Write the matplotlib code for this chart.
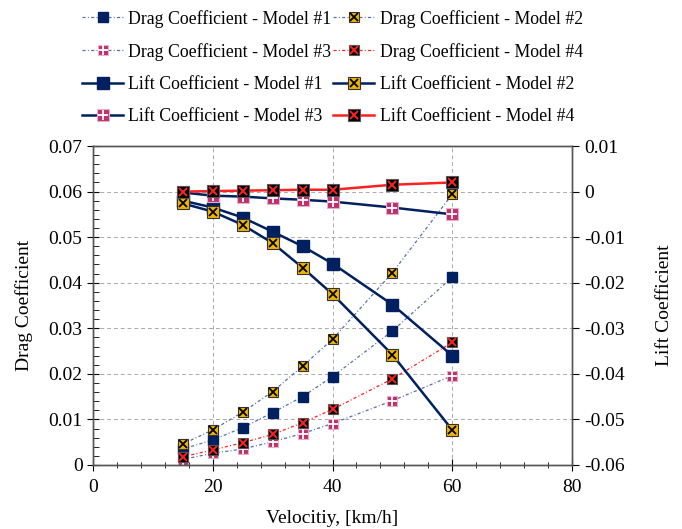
import matplotlib
matplotlib.use("Agg")
import matplotlib.pyplot as plt
from matplotlib.legend_handler import HandlerTuple
from matplotlib.ticker import MultipleLocator

plt.rcParams['font.family'] = ['Liberation Serif', 'DejaVu Serif']

velocity = [15, 20, 25, 30, 35, 40, 50, 60]

drag_m1 = [0.0035, 0.0055, 0.0082, 0.0115, 0.0150, 0.0194, 0.0294, 0.0412]
drag_m2 = [0.0046, 0.0077, 0.0116, 0.0161, 0.0217, 0.0276, 0.0422, 0.0594]
drag_m3 = [0.0012, 0.0026, 0.0035, 0.0051, 0.0069, 0.0091, 0.0141, 0.0196]
drag_m4 = [0.0018, 0.0033, 0.0049, 0.0067, 0.0093, 0.0122, 0.0189, 0.0269]

lift_m1 = [-0.0020, -0.0035, -0.0057, -0.0088, -0.0120, -0.0158, -0.0248, -0.0360]
lift_m2 = [-0.0026, -0.0044, -0.0073, -0.0113, -0.0167, -0.0225, -0.0358, -0.0523]
lift_m3 = [-0.0002, -0.0009, -0.0011, -0.0015, -0.0018, -0.0022, -0.0035, -0.0050]
lift_m4 = [0.0000, 0.0001, 0.0002, 0.0003, 0.0004, 0.0004, 0.0015, 0.0020]

NAVY = '#002060'
DLINE = '#5570A8'
GOLD = '#F0B400'
PINK = '#C0306A'
RED = '#FF2020'

fig = plt.figure(figsize=(6.82, 5.29), dpi=100)
ax = fig.add_axes([0.1364, 0.121, 0.7023, 0.603])
ax2 = ax.twinx()

def draw(a, x, y, model, lw, ls, lcolor, ms):
    if model == 1:
        l = a.plot(x, y, ls=ls, lw=lw, color=lcolor, marker='s', ms=ms,
                   mfc=NAVY, mec=NAVY)[0]
        return (l,)
    if model == 2:
        l = a.plot(x, y, ls=ls, lw=lw, color=lcolor, marker='s', ms=ms,
                   mfc=GOLD, mec='#333333', mew=0.8)[0]
        o = a.plot(x, y, ls='none', marker='x', ms=ms * 0.75, mec='black', mew=1.3)[0]
        return (l, o)
    if model == 3:
        l = a.plot(x, y, ls=ls, lw=lw, color=lcolor, marker='s', ms=ms,
                   mfc=PINK, mec='#E8B0C8', mew=0.8)[0]
        o = a.plot(x, y, ls='none', marker='+', ms=ms * 0.95, mec='white', mew=1.3)[0]
        return (l, o)
    l = a.plot(x, y, ls=ls, lw=lw, color=lcolor, marker='s', ms=ms,
               mfc='black', mec='#555555', mew=0.8)[0]
    o = a.plot(x, y, ls='none', marker='x', ms=ms * 0.75, mec=RED, mew=1.4)[0]
    return (l, o)

dls = (0, (2.5, 1.8, 0.8, 1.8))
h_d1 = draw(ax, velocity, drag_m1, 1, 0.9, dls, DLINE, 7)
h_d2 = draw(ax, velocity, drag_m2, 2, 0.9, dls, DLINE, 7)
h_d3 = draw(ax, velocity, drag_m3, 3, 0.9, dls, DLINE, 7)
h_d4 = draw(ax, velocity, drag_m4, 4, 0.9, dls, RED, 7)

h_l1 = draw(ax2, velocity, lift_m1, 1, 1.8, '-', NAVY, 8.5)
h_l2 = draw(ax2, velocity, lift_m2, 2, 1.8, '-', NAVY, 8)
h_l3 = draw(ax2, velocity, lift_m3, 3, 1.8, '-', NAVY, 8)
h_l4 = draw(ax2, velocity, lift_m4, 4, 1.8, '-', RED, 8)

ax.set_xlim(0, 80)
ax.set_ylim(0, 0.07)
ax2.set_ylim(-0.06, 0.01)
ax.xaxis.set_major_locator(MultipleLocator(20))
ax.xaxis.set_minor_locator(MultipleLocator(4))
ax.yaxis.set_major_locator(MultipleLocator(0.01))
ax.yaxis.set_minor_locator(MultipleLocator(0.002))
ax2.yaxis.set_major_locator(MultipleLocator(0.01))
ax.yaxis.set_major_formatter(plt.FuncFormatter(lambda v, p: '0' if abs(v) < 1e-9 else f'{v:.2f}'))
ax2.yaxis.set_major_formatter(plt.FuncFormatter(lambda v, p: '0' if abs(v) < 1e-9 else f'{v:.2f}'))
ax.xaxis.set_major_formatter(plt.FuncFormatter(lambda v, p: f'{v:.0f}'))

ax.grid(True, which='major', ls=(0, (4, 3)), color='#AAAAAA', lw=0.7)
ax.tick_params(axis='x', which='major', direction='inout', length=8, labelsize=14, pad=6)
ax.tick_params(axis='x', which='minor', direction='inout', length=5)
ax.tick_params(axis='y', which='major', direction='inout', length=8, labelsize=14)
ax.tick_params(axis='y', which='minor', direction='in', length=4)
ax2.tick_params(axis='y', which='major', direction='out', length=5, labelsize=14)

for a in (ax, ax2):
    for s in a.spines.values():
        s.set_color('#555555')
        s.set_linewidth(1.0)

ax.set_xlabel('Velocitiy, [km/h]', fontsize=14, labelpad=10)
ax.set_ylabel('Drag Coefficient', fontsize=14, labelpad=11)
ax2.set_ylabel('Lift Coefficient', fontsize=14, labelpad=23)

handles = [h_d1, h_d3, h_l1, h_l3, h_d2, h_d4, h_l2, h_l4]
labels = ['Drag Coefficient - Model #1', 'Drag Coefficient - Model #3',
          'Lift Coefficient - Model #1', 'Lift Coefficient - Model #3',
          'Drag Coefficient - Model #2', 'Drag Coefficient - Model #4',
          'Lift Coefficient - Model #2', 'Lift Coefficient - Model #4']
fig.legend(handles, labels, ncol=2, loc='upper left', bbox_to_anchor=(0.097, 1.012),
           frameon=False, fontsize=12.8, handler_map={tuple: HandlerTuple(ndivide=1)},
           handlelength=2.3, handletextpad=0.3, columnspacing=0.1, labelspacing=0.86)

fig.savefig('out.png', dpi=100)
